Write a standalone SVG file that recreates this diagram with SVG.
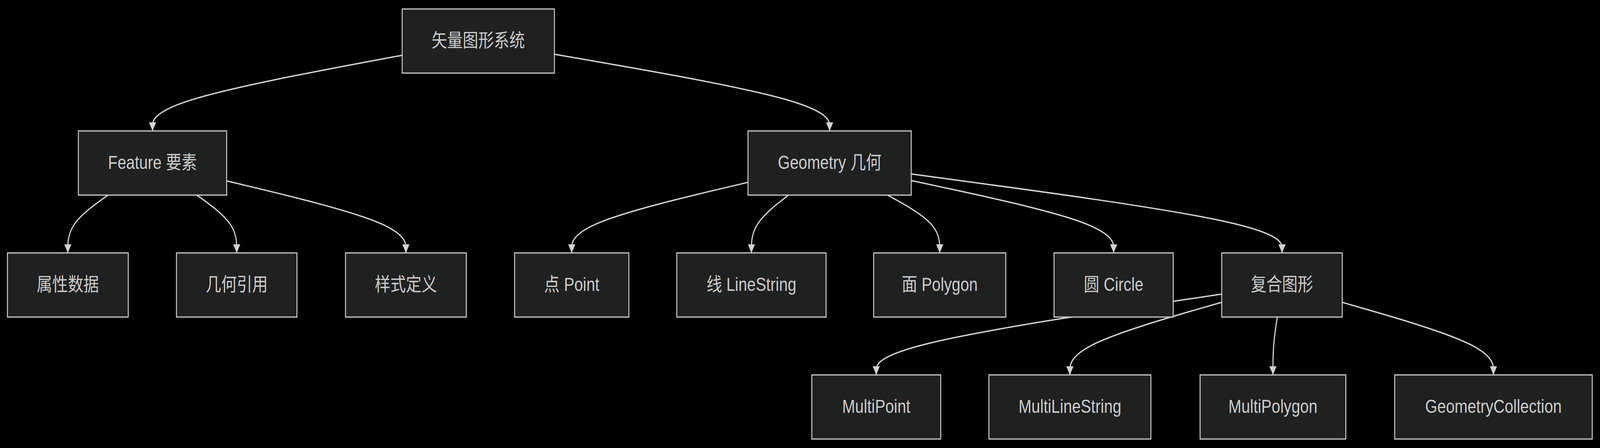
<svg xmlns="http://www.w3.org/2000/svg" width="4941" height="1146" viewBox="0 0 4941 1146" preserveAspectRatio="none" style="display:block;width:100vw;height:100vh">
<style>
.bg{fill:#000000}
.node rect{fill:#1f2020;stroke:#cccccc;stroke-width:3}
.node text{fill:#cccccc;font-family:"Liberation Sans","Noto Sans CJK SC",sans-serif;font-size:48px;text-anchor:middle}
.edges path{fill:none;stroke:#d3d3d3;stroke-width:3.5;marker-end:url(#arrow)}
</style>
<defs>
<marker id="arrow" viewBox="0 0 10 10" refX="10" refY="5" markerWidth="24" markerHeight="22" markerUnits="userSpaceOnUse" orient="auto">
<path d="M0,0 L10,5 L0,10 z" fill="#d3d3d3"/>
</marker>
</defs>
<rect class="bg" x="0" y="0" width="4941" height="1146"/>
<g id="edges" class="edges">
<path d="M1242,141.4 L1113.5,161.3 C985,181.3 728,221.1 599.5,253.4 C471,285.7 471,310.3 471,322.7 L471,335"/>
<path d="M1712,138.8 L1853.7,159.2 C1995.3,179.5 2278.7,220.3 2420.3,253 C2562,285.7 2562,310.3 2562,322.7 L2562,335"/>
<path d="M333.6,499 L312.9,511.3 C292.2,523.7 250.9,548.3 230.2,573 C209.5,597.7 209.5,622.3 209.5,634.7 L209.5,647"/>
<path d="M607.7,499 L628.3,511.3 C648.8,523.7 689.9,548.3 710.5,573 C731,597.7 731,622.3 731,634.7 L731,647"/>
<path d="M700,462.7 L792.3,481.1 C884.5,499.4 1069,536.2 1161.3,566.9 C1253.5,597.7 1253.5,622.3 1253.5,634.7 L1253.5,647"/>
<path d="M2310,466.4 L2219.3,484.1 C2128.5,501.9 1947,537.5 1856.3,567.6 C1765.5,597.7 1765.5,622.3 1765.5,634.7 L1765.5,647"/>
<path d="M2435.1,499 L2416,511.3 C2396.9,523.7 2358.7,548.3 2339.6,573 C2320.5,597.7 2320.5,622.3 2320.5,634.7 L2320.5,647"/>
<path d="M2740.7,499 L2767.6,511.3 C2794.5,523.7 2848.2,548.3 2875.1,573 C2902,597.7 2902,622.3 2902,634.7 L2902,647"/>
<path d="M2814,461.8 L2918.2,480.4 C3022.3,498.9 3230.7,535.9 3334.8,566.8 C3439,597.7 3439,622.3 3439,634.7 L3439,647"/>
<path d="M2814,445.1 L3004.8,466.5 C3195.7,487.8 3577.3,530.4 3768.2,564 C3959,597.7 3959,622.3 3959,634.7 L3959,647"/>
<path d="M3773,752.2 L3595.2,774.3 C3417.3,796.4 3061.7,840.7 2883.8,875.2 C2706,909.7 2706,934.3 2706,946.7 L2706,959"/>
<path d="M3773,773.3 L3694.8,791.9 C3616.7,810.5 3460.3,847.8 3382.2,878.7 C3304,909.7 3304,934.3 3304,946.7 L3304,959"/>
<path d="M3944.3,811 L3942.1,823.3 C3939.9,835.7 3935.4,860.3 3933.2,885 C3931,909.7 3931,934.3 3931,946.7 L3931,959"/>
<path d="M4145,773.4 L4222.8,792 C4300.7,810.6 4456.3,847.8 4534.2,878.7 C4612,909.7 4612,934.3 4612,946.7 L4612,959"/>
</g>
<g id="n-root" class="node"><rect x="1242" y="23" width="470" height="164"/><text x="1477" y="120">矢量图形系统</text></g>
<g id="n-feature" class="node"><rect x="242" y="335" width="458" height="164"/><text x="471" y="432">Feature 要素</text></g>
<g id="n-geometry" class="node"><rect x="2310" y="335" width="504" height="164"/><text x="2562" y="432">Geometry 几何</text></g>
<g id="n-attr" class="node"><rect x="23" y="647" width="373" height="164"/><text x="209.5" y="744">属性数据</text></g>
<g id="n-georef" class="node"><rect x="545" y="647" width="372" height="164"/><text x="731" y="744">几何引用</text></g>
<g id="n-style" class="node"><rect x="1067" y="647" width="373" height="164"/><text x="1253.5" y="744">样式定义</text></g>
<g id="n-point" class="node"><rect x="1589" y="647" width="353" height="164"/><text x="1765.5" y="744">点 Point</text></g>
<g id="n-linestring" class="node"><rect x="2090" y="647" width="461" height="164"/><text x="2320.5" y="744">线 LineString</text></g>
<g id="n-polygon" class="node"><rect x="2698" y="647" width="408" height="164"/><text x="2902" y="744">面 Polygon</text></g>
<g id="n-circle" class="node"><rect x="3255" y="647" width="368" height="164"/><text x="3439" y="744">圆 Circle</text></g>
<g id="n-composite" class="node"><rect x="3773" y="647" width="372" height="164"/><text x="3959" y="744">复合图形</text></g>
<g id="n-multipoint" class="node"><rect x="2507" y="959" width="398" height="164"/><text x="2706" y="1056">MultiPoint</text></g>
<g id="n-multilinestring" class="node"><rect x="3054" y="959" width="500" height="164"/><text x="3304" y="1056">MultiLineString</text></g>
<g id="n-multipolygon" class="node"><rect x="3706" y="959" width="450" height="164"/><text x="3931" y="1056">MultiPolygon</text></g>
<g id="n-geomcollection" class="node"><rect x="4307" y="959" width="610" height="164"/><text x="4612" y="1056">GeometryCollection</text></g>
</svg>
